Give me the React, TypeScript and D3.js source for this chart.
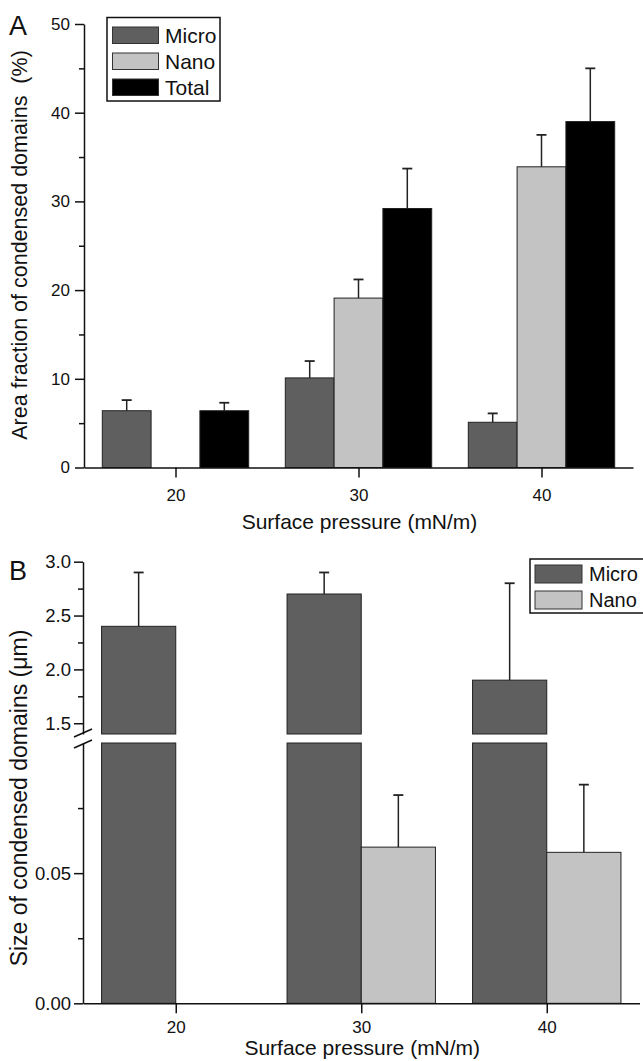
import { useEffect, useRef } from 'react';
import * as d3 from 'd3';

// Surface pressure groups (mN/m)
const pressures = [20, 30, 40];

// Panel A: area fraction of condensed domains (%)
const areaMicro = [6.4, 10.1, 5.1];
const areaMicroErr = [1.2, 1.9, 1.0];
const areaNano = [0, 19.1, 33.9];
const areaNanoErr = [0, 2.1, 3.6];
const areaTotal = [6.4, 29.2, 39.0];
const areaTotalErr = [0.9, 4.5, 6.0];

// Panel B: size of condensed domains (um), broken y axis
const sizeMicro = [2.4, 2.7, 1.9];
const sizeMicroErr = [0.5, 0.2, 0.9];
const sizeNano = [0, 0.060, 0.058];
const sizeNanoErr = [0, 0.020, 0.026];

const areaTicks = [0, 10, 20, 30, 40, 50];
const areaMinor = [5, 15, 25, 35, 45];
const sizeUpperTicks = [1.5, 2.0, 2.5, 3.0];
const sizeUpperMinor = [1.75, 2.25, 2.75];
const sizeLowerTicks = [0, 0.05];
const sizeLowerMinor = [0.025, 0.075];

const COLORS = { Micro: '#5f5f5f', Nano: '#c3c3c3', Total: '#000000' };
const FONT = '"Liberation Sans", Arial, sans-serif';

export default function App() {
  const ref = useRef<SVGSVGElement | null>(null);

  useEffect(() => {
    if (!ref.current) return;
    const svg = d3.select(ref.current);
    svg.selectAll('*').remove();
    svg.style('font-family', FONT);

    const styleAxis = (g: any, size = 17) => {
      g.selectAll('path').attr('stroke', '#111').attr('stroke-width', 1.5);
      g.selectAll('line').attr('stroke', '#111').attr('stroke-width', 1.5);
      g.selectAll('text').attr('fill', '#111').style('font-size', size + 'px').style('font-family', FONT);
    };

    const drawErr = (g: any, cx: number, yTop: number, yErr: number) => {
      g.append('line').attr('x1', cx).attr('x2', cx).attr('y1', yTop).attr('y2', yErr)
        .attr('stroke', '#222').attr('stroke-width', 1.5);
      g.append('line').attr('x1', cx - 5).attr('x2', cx + 5).attr('y1', yErr).attr('y2', yErr)
        .attr('stroke', '#222').attr('stroke-width', 1.8);
    };

    // ---------- Panel A ----------
    const xA = d3.scaleLinear().domain([15, 45]).range([84, 633]);
    const yA = d3.scaleLinear().domain([0, 50]).range([467.5, 24]);
    const gA = svg.append('g');

    const seriesA = [
      { name: 'Micro', vals: areaMicro, errs: areaMicroErr, off: -4 },
      { name: 'Nano', vals: areaNano, errs: areaNanoErr, off: -4 / 3 },
      { name: 'Total', vals: areaTotal, errs: areaTotalErr, off: 4 / 3 },
    ];
    const wA = 8 / 3;
    seriesA.forEach(s => {
      pressures.forEach((p, i) => {
        if (!s.vals[i]) return;
        const x0 = xA(p + s.off), x1 = xA(p + s.off + wA);
        gA.append('rect').attr('x', x0).attr('width', x1 - x0)
          .attr('y', yA(s.vals[i])).attr('height', yA(0) - yA(s.vals[i]))
          .attr('fill', (COLORS as any)[s.name]).attr('stroke', '#222').attr('stroke-width', 1);
        drawErr(gA, (x0 + x1) / 2, yA(s.vals[i]), yA(s.vals[i] + s.errs[i]));
      });
    });

    const axA = gA.append('g').attr('transform', `translate(${xA(15)},0)`)
      .call(d3.axisLeft(yA).tickValues(areaTicks).tickSize(9).tickPadding(5).tickSizeOuter(0));
    styleAxis(axA);
    const axAm = gA.append('g').attr('transform', `translate(${xA(15)},0)`)
      .call(d3.axisLeft(yA).tickValues(areaMinor).tickSize(5).tickFormat(() => '').tickSizeOuter(0));
    styleAxis(axAm);
    axAm.select('path').remove();
    const axAx = gA.append('g').attr('transform', `translate(0,${yA(0)})`)
      .call(d3.axisBottom(xA).tickValues(pressures).tickSize(10).tickPadding(11).tickSizeOuter(0));
    styleAxis(axAx);

    gA.append('text').attr('x', 9).attr('y', 35).text('A')
      .style('font-size', '27px').attr('fill', '#111');
    gA.append('text').attr('transform', `translate(27,245) rotate(-90)`)
      .attr('text-anchor', 'middle').style('font-size', '21.5px').attr('fill', '#111')
      .attr('xml:space', 'preserve').text('Area fraction of condensed domains  (%)');
    gA.append('text').attr('x', (xA(15) + xA(45)) / 2 + 1).attr('y', 529)
      .attr('text-anchor', 'middle').style('font-size', '21px').attr('fill', '#111')
      .text('Surface pressure (mN/m)');

    // legend A
    const legA = gA.append('g');
    legA.append('rect').attr('x', 107).attr('y', 17.5).attr('width', 113).attr('height', 83.5)
      .attr('fill', '#fff').attr('stroke', '#111').attr('stroke-width', 1.5);
    seriesA.forEach((s, i) => {
      const y = 27 + i * 26;
      legA.append('rect').attr('x', 112.5).attr('y', y).attr('width', 46).attr('height', 16.5)
        .attr('fill', (COLORS as any)[s.name]).attr('stroke', '#333').attr('stroke-width', 1);
      legA.append('text').attr('x', 165).attr('y', y + 16).text(s.name)
        .style('font-size', '21px').attr('fill', '#111');
    });

    // ---------- Panel B ----------
    const xB = d3.scaleLinear().domain([15, 45]).range([83, 639.5]);
    const yLow = d3.scaleLinear().domain([0, 0.1]).range([1003.3, 743]);
    const yUp = d3.scaleLinear().domain([1.4, 3.0]).range([734, 561.7]);
    const gB = svg.append('g');

    const seriesB = [
      { name: 'Micro', vals: sizeMicro, errs: sizeMicroErr, off: -4 },
      { name: 'Nano', vals: sizeNano, errs: sizeNanoErr, off: 0 },
    ];
    seriesB.forEach(s => {
      pressures.forEach((p, i) => {
        const v = s.vals[i];
        if (!v) return;
        const x0 = xB(p + s.off), x1 = xB(p + s.off + 4);
        const fill = (COLORS as any)[s.name];
        const lowTop = Math.min(v, 0.1);
        gB.append('rect').attr('x', x0).attr('width', x1 - x0)
          .attr('y', yLow(lowTop)).attr('height', yLow(0) - yLow(lowTop))
          .attr('fill', fill).attr('stroke', '#222').attr('stroke-width', 1);
        if (v > 1.4) {
          gB.append('rect').attr('x', x0).attr('width', x1 - x0)
            .attr('y', yUp(v)).attr('height', yUp(1.4) - yUp(v))
            .attr('fill', fill).attr('stroke', '#222').attr('stroke-width', 1);
          drawErr(gB, (x0 + x1) / 2, yUp(v), yUp(v + s.errs[i]));
        } else {
          drawErr(gB, (x0 + x1) / 2, yLow(v), yLow(v + s.errs[i]));
        }
      });
    });

    const axBu = gB.append('g').attr('transform', `translate(${xB(15)},0)`)
      .call(d3.axisLeft(yUp).tickValues(sizeUpperTicks).tickFormat(d3.format('.1f')).tickSize(9).tickPadding(3).tickSizeOuter(0));
    styleAxis(axBu, 18.5);
    const axBum = gB.append('g').attr('transform', `translate(${xB(15)},0)`)
      .call(d3.axisLeft(yUp).tickValues(sizeUpperMinor).tickSize(5).tickFormat(() => '').tickSizeOuter(0));
    styleAxis(axBum);
    axBum.select('path').remove();
    const axBl = gB.append('g').attr('transform', `translate(${xB(15)},0)`)
      .call(d3.axisLeft(yLow).tickValues(sizeLowerTicks).tickFormat(d3.format('.2f')).tickSize(9).tickPadding(3).tickSizeOuter(0));
    styleAxis(axBl, 18.5);
    const axBlm = gB.append('g').attr('transform', `translate(${xB(15)},0)`)
      .call(d3.axisLeft(yLow).tickValues(sizeLowerMinor).tickSize(5).tickFormat(() => '').tickSizeOuter(0));
    styleAxis(axBlm);
    axBlm.select('path').remove();
    const axBx = gB.append('g').attr('transform', `translate(0,${yLow(0)})`)
      .call(d3.axisBottom(xB).tickValues(pressures).tickSize(10).tickPadding(8).tickSizeOuter(0));
    styleAxis(axBx);

    // axis break marks
    const bx = xB(15);
    [yUp(1.4) - 1, yLow(0.1) + 1].forEach(y => {
      gB.append('line').attr('x1', bx - 9).attr('x2', bx + 9).attr('y1', y + 4).attr('y2', y - 4)
        .attr('stroke', '#111').attr('stroke-width', 1.5);
    });

    gB.append('text').attr('x', 9).attr('y', 580).text('B')
      .style('font-size', '27px').attr('fill', '#111');
    gB.append('text').attr('transform', `translate(27,798) rotate(-90)`)
      .attr('text-anchor', 'middle').style('font-size', '23px').attr('fill', '#111')
      .text('Size of condensed domains (\u03bcm)');
    gB.append('text').attr('x', (xB(15) + xB(45)) / 2 + 1).attr('y', 1055)
      .attr('text-anchor', 'middle').style('font-size', '21px').attr('fill', '#111')
      .text('Surface pressure (mN/m)');

    // legend B (cut at right edge like the source)
    const legB = gB.append('g');
    legB.append('rect').attr('x', 530).attr('y', 559).attr('width', 130).attr('height', 54)
      .attr('fill', '#fff').attr('stroke', '#111').attr('stroke-width', 1.5);
    seriesB.forEach((s, i) => {
      const y = 565 + i * 26;
      legB.append('rect').attr('x', 535).attr('y', y).attr('width', 47).attr('height', 18)
        .attr('fill', (COLORS as any)[s.name]).attr('stroke', '#333').attr('stroke-width', 1);
      legB.append('text').attr('x', 589).attr('y', y + 16).text(s.name)
        .style('font-size', '20px').attr('fill', '#111');
    });
  }, []);

  return (
    <svg ref={ref} width={643} height={1061}
      style={{ position: 'absolute', left: 0, top: 0, background: '#fff' }} />
  );
}
